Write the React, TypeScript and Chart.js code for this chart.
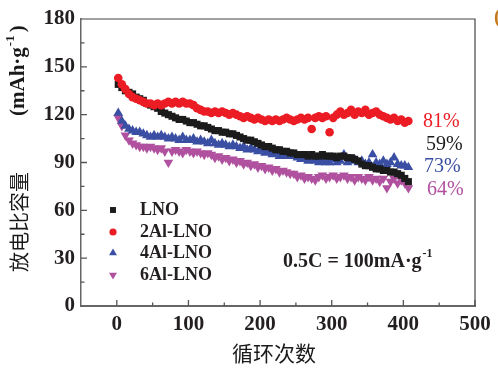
import React, { useEffect, useRef } from "react";
import { Chart, registerables } from "chart.js";
import { drawPoint } from "chart.js/helpers";

Chart.register(...registerables);

// cycle numbers (sampled every 5 cycles)
const cycles = [
  2, 7, 12, 17, 22, 27, 32, 37, 42, 47,
  52, 57, 62, 67, 72, 77, 82, 87, 92, 97,
  102, 107, 112, 117, 122, 127, 132, 137, 142, 147,
  152, 157, 162, 167, 172, 177, 182, 187, 192, 197,
  202, 207, 212, 217, 222, 227, 232, 237, 242, 247,
  252, 257, 262, 267, 272, 277, 282, 287, 292, 297,
  302, 307, 312, 317, 322, 327, 332, 337, 342, 347,
  352, 357, 362, 367, 372, 377, 382, 387, 392, 397,
  402, 407,
];

const lno = [
  139, 137, 135, 134, 133, 131, 130, 129, 127, 126,
  125, 124, 122, 121, 120, 119, 118, 117, 117, 116,
  115, 115, 114, 113, 113, 112, 111, 110, 110, 109,
  109, 108, 108, 107, 106, 105, 104, 104, 103, 102,
  101, 100, 100, 99, 98, 98, 97, 97, 96, 96,
  95, 95, 95, 94, 95, 94, 94, 95, 94, 94,
  94, 93, 94, 94, 93, 93, 92, 91, 89, 88,
  88, 87, 86, 86, 85, 85, 84, 84, 83, 82,
  80, 78,
];

const al2 = [
  143, 139, 136, 133, 131, 130, 129, 128, 127, 127,
  126, 127, 126, 127, 128, 127, 128, 127, 128, 127,
  127, 126, 124, 123, 122, 122, 121, 122, 121, 122,
  121, 120, 121, 120, 119, 118, 119, 118, 117, 118,
  117, 116, 117, 116, 117, 116, 117, 118, 117, 116,
  117, 118, 117, 118, 111, 118, 119, 118, 119, 109,
  118, 120, 122, 120, 121, 123, 120, 122, 121, 123,
  120, 121, 122, 120, 119, 118, 117, 118, 116, 117,
  115, 116,
];

const al4 = [
  121, 116, 113, 111, 110, 109, 109, 108, 107, 106,
  107, 106, 107, 106, 105, 106, 105, 104, 106, 104,
  104, 105, 103, 104, 103, 102, 104, 102, 101, 102,
  101, 100, 101, 100, 99, 100, 98, 99, 98, 97,
  98, 96, 97, 95, 96, 94, 95, 94, 95, 94,
  93, 92, 92, 91, 92, 91, 90, 91, 90, 90,
  92, 90, 91, 95, 90, 91, 92, 90, 91, 89,
  90, 95, 90, 89, 91, 89, 90, 93, 89, 88,
  88, 87,
];

const al6 = [
  118, 113, 107, 104, 102, 101, 100, 100, 99, 100,
  99, 98, 99, 97, 90, 97, 98, 97, 96, 98,
  97, 96, 97, 96, 95, 96, 95, 93, 94, 92,
  93, 91, 92, 90, 91, 89, 90, 88, 89, 87,
  88, 86, 87, 85, 86, 84, 85, 84, 83, 83,
  81, 82, 80, 81, 80, 79, 81, 82, 80, 81,
  82, 80, 81, 82, 80, 81, 79, 81, 80, 79,
  81, 79, 80, 78, 80, 74, 78, 80, 77, 79,
  77, 74,
];

const seriesNames = ["LNO", "2Al-LNO", "4Al-LNO", "6Al-LNO"];
const retention = ["59%", "81%", "73%", "64%"];
const xTicks = [0, 100, 200, 300, 400, 500];
const yTicks = [0, 30, 60, 90, 120, 150, 180];

const COLORS = ["#1b1b1b", "#ec1c24", "#3a4fa3", "#b0519f"];
const STYLES: any[] = ["rect", "circle", "triangle", "triangle"];
const ROT = [0, 0, 0, 180];
const RAD = [5, 4.3, 5.6, 5.6];
const LEG_RAD = [4.2, 3.6, 4.6, 4.6];

const SERIF = "'Liberation Serif', 'Times New Roman', serif";
const CJK = "'Noto Sans CJK SC', sans-serif";

function mk(vals: number[]) {
  return cycles.map((c, i) => ({ x: c, y: vals[i] }));
}

const decor = {
  id: "decor",
  afterDraw(chart: any) {
    const { ctx, chartArea: a, scales } = chart;
    const xs = scales.x;
    const ys = scales.y;
    ctx.save();
    // top & right border
    ctx.strokeStyle = "#444";
    ctx.lineWidth = 1.2;
    ctx.beginPath();
    ctx.moveTo(a.left, a.top);
    ctx.lineTo(a.right, a.top);
    ctx.lineTo(a.right, a.bottom);
    ctx.stroke();
    // inward ticks
    ctx.strokeStyle = "#555";
    ctx.lineWidth = 1.3;
    ctx.beginPath();
    for (let v = 0; v <= 500; v += 50) {
      const px = xs.getPixelForValue(v);
      const len = v % 100 === 0 ? 6 : 3.5;
      ctx.moveTo(px, a.bottom);
      ctx.lineTo(px, a.bottom - len);
    }
    for (let v = 15; v < 180; v += 15) {
      const py = ys.getPixelForValue(v);
      const len = v % 30 === 0 ? 6 : 3.5;
      ctx.moveTo(a.left, py);
      ctx.lineTo(a.left + len, py);
    }
    ctx.stroke();

    // legend
    const order = [0, 1, 2, 3];
    const ly = [210, 232, 253, 275];
    ctx.font = `bold 18px ${SERIF}`;
    ctx.textBaseline = "middle";
    ctx.textAlign = "left";
    order.forEach((k, i) => {
      ctx.fillStyle = COLORS[k];
      ctx.strokeStyle = COLORS[k];
      drawPoint(ctx, { pointStyle: STYLES[k], rotation: ROT[k], radius: LEG_RAD[k], borderWidth: 0 } as any, 113, ly[i]);
      ctx.fillStyle = "#231f20";
      ctx.fillText(seriesNames[k], 140, ly[i]);
    });

    // retention labels
    ctx.font = `20px ${SERIF}`;
    const rl = [
      { k: 1, x: 423, y: 122 },
      { k: 0, x: 426, y: 145 },
      { k: 2, x: 424, y: 167 },
      { k: 3, x: 427, y: 190 },
    ];
    rl.forEach((r) => {
      ctx.fillStyle = COLORS[r.k];
      ctx.fillText(retention[r.k], r.x, r.y);
    });

    // rate annotation
    ctx.fillStyle = "#231f20";
    ctx.font = `bold 20px ${SERIF}`;
    const main = "0.5C = 100mA·g";
    ctx.fillText(main, 283, 262);
    const w = ctx.measureText(main).width;
    ctx.font = `bold 12px ${SERIF}`;
    ctx.fillText("-1", 283 + w + 1, 254);

    // x title
    ctx.font = `21px ${CJK}`;
    ctx.textAlign = "center";
    ctx.fillStyle = "#1a1a1a";
    ctx.fillText("循环次数", 274, 353);

    // y title
    ctx.save();
    ctx.translate(19, 0);
    ctx.rotate(-Math.PI / 2);
    ctx.font = `20px ${CJK}`;
    ctx.textAlign = "center";
    ctx.fillText("放电比容量", -222, 0);
    ctx.font = `bold 21px ${SERIF}`;
    ctx.textAlign = "left";
    const t1 = "(mAh·g";
    const startX = -116;
    ctx.fillText(t1, startX, 0);
    const w1 = ctx.measureText(t1).width;
    ctx.font = `bold 13px ${SERIF}`;
    ctx.fillText("-1", startX + w1 + 1, -8);
    const w2 = ctx.measureText("-1").width;
    ctx.font = `bold 21px ${SERIF}`;
    ctx.fillText(")", startX + w1 + w2 + 4, 0);
    ctx.restore();

    // clipped panel label
    ctx.fillStyle = "#c47a1c";
    ctx.font = `bold 20px ${SERIF}`;
    ctx.textAlign = "left";
    ctx.fillText("(c)", 494, 18);

    ctx.restore();
  },
};

export default function App() {
  const ref = useRef<HTMLCanvasElement>(null);
  useEffect(() => {
    if (!ref.current) return;
    const all = [lno, al2, al4, al6];
    const drawOrder = [1, 0, 2, 3];
    const chart = new Chart(ref.current, {
      type: "scatter",
      data: {
        datasets: all.map((vals, k) => ({
          label: seriesNames[k],
          data: mk(vals),
          showLine: false,
          pointStyle: STYLES[k],
          rotation: ROT[k],
          pointRadius: RAD[k],
          pointBackgroundColor: COLORS[k],
          pointBorderColor: COLORS[k],
          pointBorderWidth: 0,
          order: drawOrder[k],
        })),
      },
      options: {
        responsive: false,
        animation: false,
        events: [],
        layout: { padding: { left: 0, top: 19, right: 23, bottom: 0 } },
        plugins: { legend: { display: false }, tooltip: { enabled: false } },
        scales: {
          x: {
            type: "linear",
            min: -50,
            max: 500,
            afterBuildTicks: (s: any) => {
              s.ticks = xTicks.map((v) => ({ value: v }));
            },
            afterFit: (s: any) => {
              s.height = 65;
            },
            grid: { display: false, drawTicks: false },
            border: { display: true, color: "#666", width: 2 },
            ticks: {
              font: { family: SERIF, size: 21, weight: "bold" },
              color: "#231f20",
              padding: 6,
              maxRotation: 0,
            },
          },
          y: {
            min: 0,
            max: 180,
            afterBuildTicks: (s: any) => {
              s.ticks = yTicks.map((v) => ({ value: v }));
            },
            afterFit: (s: any) => {
              s.width = 81;
            },
            grid: { display: false, drawTicks: false },
            border: { display: true, color: "#666", width: 1.5 },
            ticks: {
              font: { family: SERIF, size: 21, weight: "bold" },
              color: "#231f20",
              padding: 6,
            },
          },
        },
      },
      plugins: [decor],
    } as any);
    return () => chart.destroy();
  }, []);
  return (
    <div style={{ position: "fixed", left: 0, top: 0, width: 498, height: 371, background: "#fff" }}>
      <canvas ref={ref} width={498} height={371} style={{ display: "block" }} />
    </div>
  );
}
